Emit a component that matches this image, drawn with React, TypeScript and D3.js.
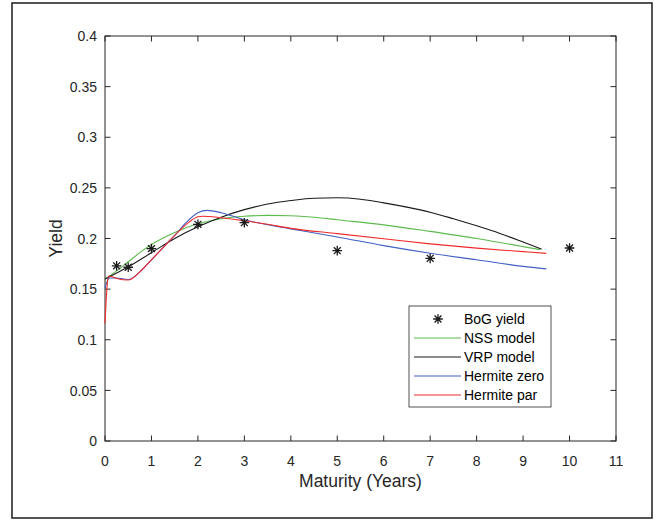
import * as d3 from "d3";
import { useRef, useEffect } from "react";

// BoG observed yields
const bogMaturity = [0.25, 0.5, 1, 2, 3, 5, 7, 10];
const bogYield = [0.173, 0.1716, 0.19, 0.214, 0.2156, 0.188, 0.1804, 0.1906];

// NSS model
const nssT = [0, 0.1, 0.25, 0.5, 0.75, 1, 1.5, 2, 2.5, 3, 3.5, 4, 4.5, 5, 6, 7, 8, 9, 9.36];
const nssY = [0.16, 0.163, 0.168, 0.177, 0.186, 0.194, 0.206, 0.2145, 0.2195, 0.222, 0.2228, 0.2225, 0.221, 0.2185, 0.2135, 0.207, 0.2, 0.192, 0.189];

// VRP model
const vrpT = [0, 0.25, 0.5, 1, 1.5, 2, 2.5, 3, 3.5, 4, 4.5, 5, 5.5, 6, 6.5, 7, 7.5, 8, 8.5, 9, 9.4];
const vrpY = [0.16, 0.166, 0.172, 0.186, 0.2, 0.2115, 0.221, 0.2285, 0.234, 0.2375, 0.2398, 0.2402, 0.2388, 0.2352, 0.231, 0.226, 0.2195, 0.2125, 0.205, 0.1965, 0.1895];

// Hermite zero
const hzT = [0, 0.05, 0.1, 0.25, 0.5, 0.75, 1, 1.25, 1.5, 1.75, 2, 2.2, 2.5, 3, 3.5, 4, 5, 6, 7, 8, 9, 9.5];
const hzY = [0.151, 0.158, 0.161, 0.161, 0.1595, 0.167, 0.179, 0.191, 0.203, 0.216, 0.2255, 0.2278, 0.2255, 0.2185, 0.2135, 0.2095, 0.2015, 0.193, 0.1855, 0.179, 0.1725, 0.17];

// Hermite par
const hpT = [0, 0.04, 0.08, 0.25, 0.5, 0.75, 1, 1.25, 1.5, 1.75, 2, 2.1, 2.5, 3, 3.5, 4, 5, 6, 7, 8, 9, 9.5];
const hpY = [0.116, 0.15, 0.163, 0.1605, 0.159, 0.167, 0.179, 0.191, 0.203, 0.214, 0.2215, 0.222, 0.2205, 0.2175, 0.214, 0.21, 0.2048, 0.1997, 0.1947, 0.1905, 0.187, 0.1853];

const xTicks = [0, 1, 2, 3, 4, 5, 6, 7, 8, 9, 10, 11];
const yTicks = [0, 0.05, 0.1, 0.15, 0.2, 0.25, 0.3, 0.35, 0.4];

const series = [
  { name: "NSS model", t: nssT, y: nssY, color: "#5cba4c" },
  { name: "VRP model", t: vrpT, y: vrpY, color: "#1a1a1a" },
  { name: "Hermite zero", t: hzT, y: hzY, color: "#3f5fc4" },
  { name: "Hermite par", t: hpT, y: hpY, color: "#f02a2a" },
];

const FONT = "'Liberation Sans', Arial, Helvetica, sans-serif";
const AXIS = "#262626";

function star(g, cx, cy, r) {
  const d = r * 0.72;
  g.append("path")
    .attr("d", `M${cx - r},${cy}L${cx + r},${cy}M${cx},${cy - r}L${cx},${cy + r}M${cx - d},${cy - d}L${cx + d},${cy + d}M${cx - d},${cy + d}L${cx + d},${cy - d}`)
    .attr("stroke", "#1a1a1a")
    .attr("stroke-width", 1.3)
    .attr("fill", "none");
}

function App() {
  const svgRef = useRef(null);

  useEffect(() => {
    const WIDTH = 658;
    const HEIGHT = 522;
    const left = 105, right = 616, top = 36, bottom = 441;

    const svg = d3.select(svgRef.current);
    svg.selectAll("*").remove();
    svg.attr("width", WIDTH).attr("height", HEIGHT);

    svg.append("rect").attr("width", WIDTH).attr("height", HEIGHT).attr("fill", "white");

    // outer frame
    svg.append("rect")
      .attr("x", 12).attr("y", 3)
      .attr("width", 640).attr("height", 515)
      .attr("fill", "none")
      .attr("stroke", "#2a2a2a")
      .attr("stroke-width", 1.6);

    const x = d3.scaleLinear().domain([0, 11]).range([left, right]);
    const y = d3.scaleLinear().domain([0, 0.4]).range([bottom, top]);

    const tick = 5.5;
    const axes = svg.append("g").attr("stroke", AXIS).attr("stroke-width", 1);

    xTicks.forEach((t) => {
      axes.append("line").attr("x1", x(t)).attr("x2", x(t)).attr("y1", bottom).attr("y2", bottom - tick);
      axes.append("line").attr("x1", x(t)).attr("x2", x(t)).attr("y1", top).attr("y2", top + tick);
    });
    yTicks.forEach((v) => {
      axes.append("line").attr("x1", left).attr("x2", left + tick).attr("y1", y(v)).attr("y2", y(v));
      axes.append("line").attr("x1", right).attr("x2", right - tick).attr("y1", y(v)).attr("y2", y(v));
    });

    axes.append("rect")
      .attr("x", left).attr("y", top)
      .attr("width", right - left).attr("height", bottom - top)
      .attr("fill", "none");

    const labels = svg.append("g")
      .attr("font-family", FONT)
      .attr("font-size", 14)
      .attr("fill", AXIS);

    xTicks.forEach((t) => {
      labels.append("text")
        .attr("x", x(t)).attr("y", bottom + 24.5)
        .attr("text-anchor", "middle")
        .text(t);
    });
    yTicks.forEach((v) => {
      labels.append("text")
        .attr("x", left - 8).attr("y", y(v) + 5.2)
        .attr("text-anchor", "end")
        .text(d3.format("~g")(v));
    });

    svg.append("text")
      .attr("x", (left + right) / 2).attr("y", 487)
      .attr("text-anchor", "middle")
      .attr("font-family", FONT).attr("font-size", 17.5)
      .attr("fill", AXIS)
      .text("Maturity (Years)");

    svg.append("text")
      .attr("transform", `translate(62, ${(top + bottom) / 2}) rotate(-90)`)
      .attr("text-anchor", "middle")
      .attr("font-family", FONT).attr("font-size", 17.5)
      .attr("fill", AXIS)
      .text("Yield");

    const line = d3.line().x((d) => x(d[0])).y((d) => y(d[1])).curve(d3.curveMonotoneX);

    series.forEach((s) => {
      svg.append("path")
        .attr("d", line(s.t.map((t, i) => [t, s.y[i]])))
        .attr("fill", "none")
        .attr("stroke", s.color)
        .attr("stroke-width", 1.1);
    });

    const marks = svg.append("g");
    bogMaturity.forEach((m, i) => star(marks, x(m), y(bogYield[i]), 4.8));

    // legend
    const lg = svg.append("g");
    lg.append("rect")
      .attr("x", 409).attr("y", 306)
      .attr("width", 142).attr("height", 101)
      .attr("fill", "white")
      .attr("stroke", AXIS)
      .attr("stroke-width", 0.8);

    const rowY = (i) => 319 + i * 19;
    star(lg, 438, rowY(0), 4.8);
    lg.append("text")
      .attr("x", 464).attr("y", rowY(0) + 5)
      .attr("font-family", FONT).attr("font-size", 14).attr("fill", "#000")
      .text("BoG yield");

    series.forEach((s, i) => {
      lg.append("line")
        .attr("x1", 414).attr("x2", 461)
        .attr("y1", rowY(i + 1)).attr("y2", rowY(i + 1))
        .attr("stroke", s.color).attr("stroke-width", 1.1);
      lg.append("text")
        .attr("x", 464).attr("y", rowY(i + 1) + 5)
        .attr("font-family", FONT).attr("font-size", 14).attr("fill", "#000")
        .text(s.name);
    });
  }, []);

  return (
    <div style={{ position: "absolute", left: 0, top: 0 }}>
      <svg ref={svgRef} style={{ display: "block" }} />
    </div>
  );
}

export default App;
